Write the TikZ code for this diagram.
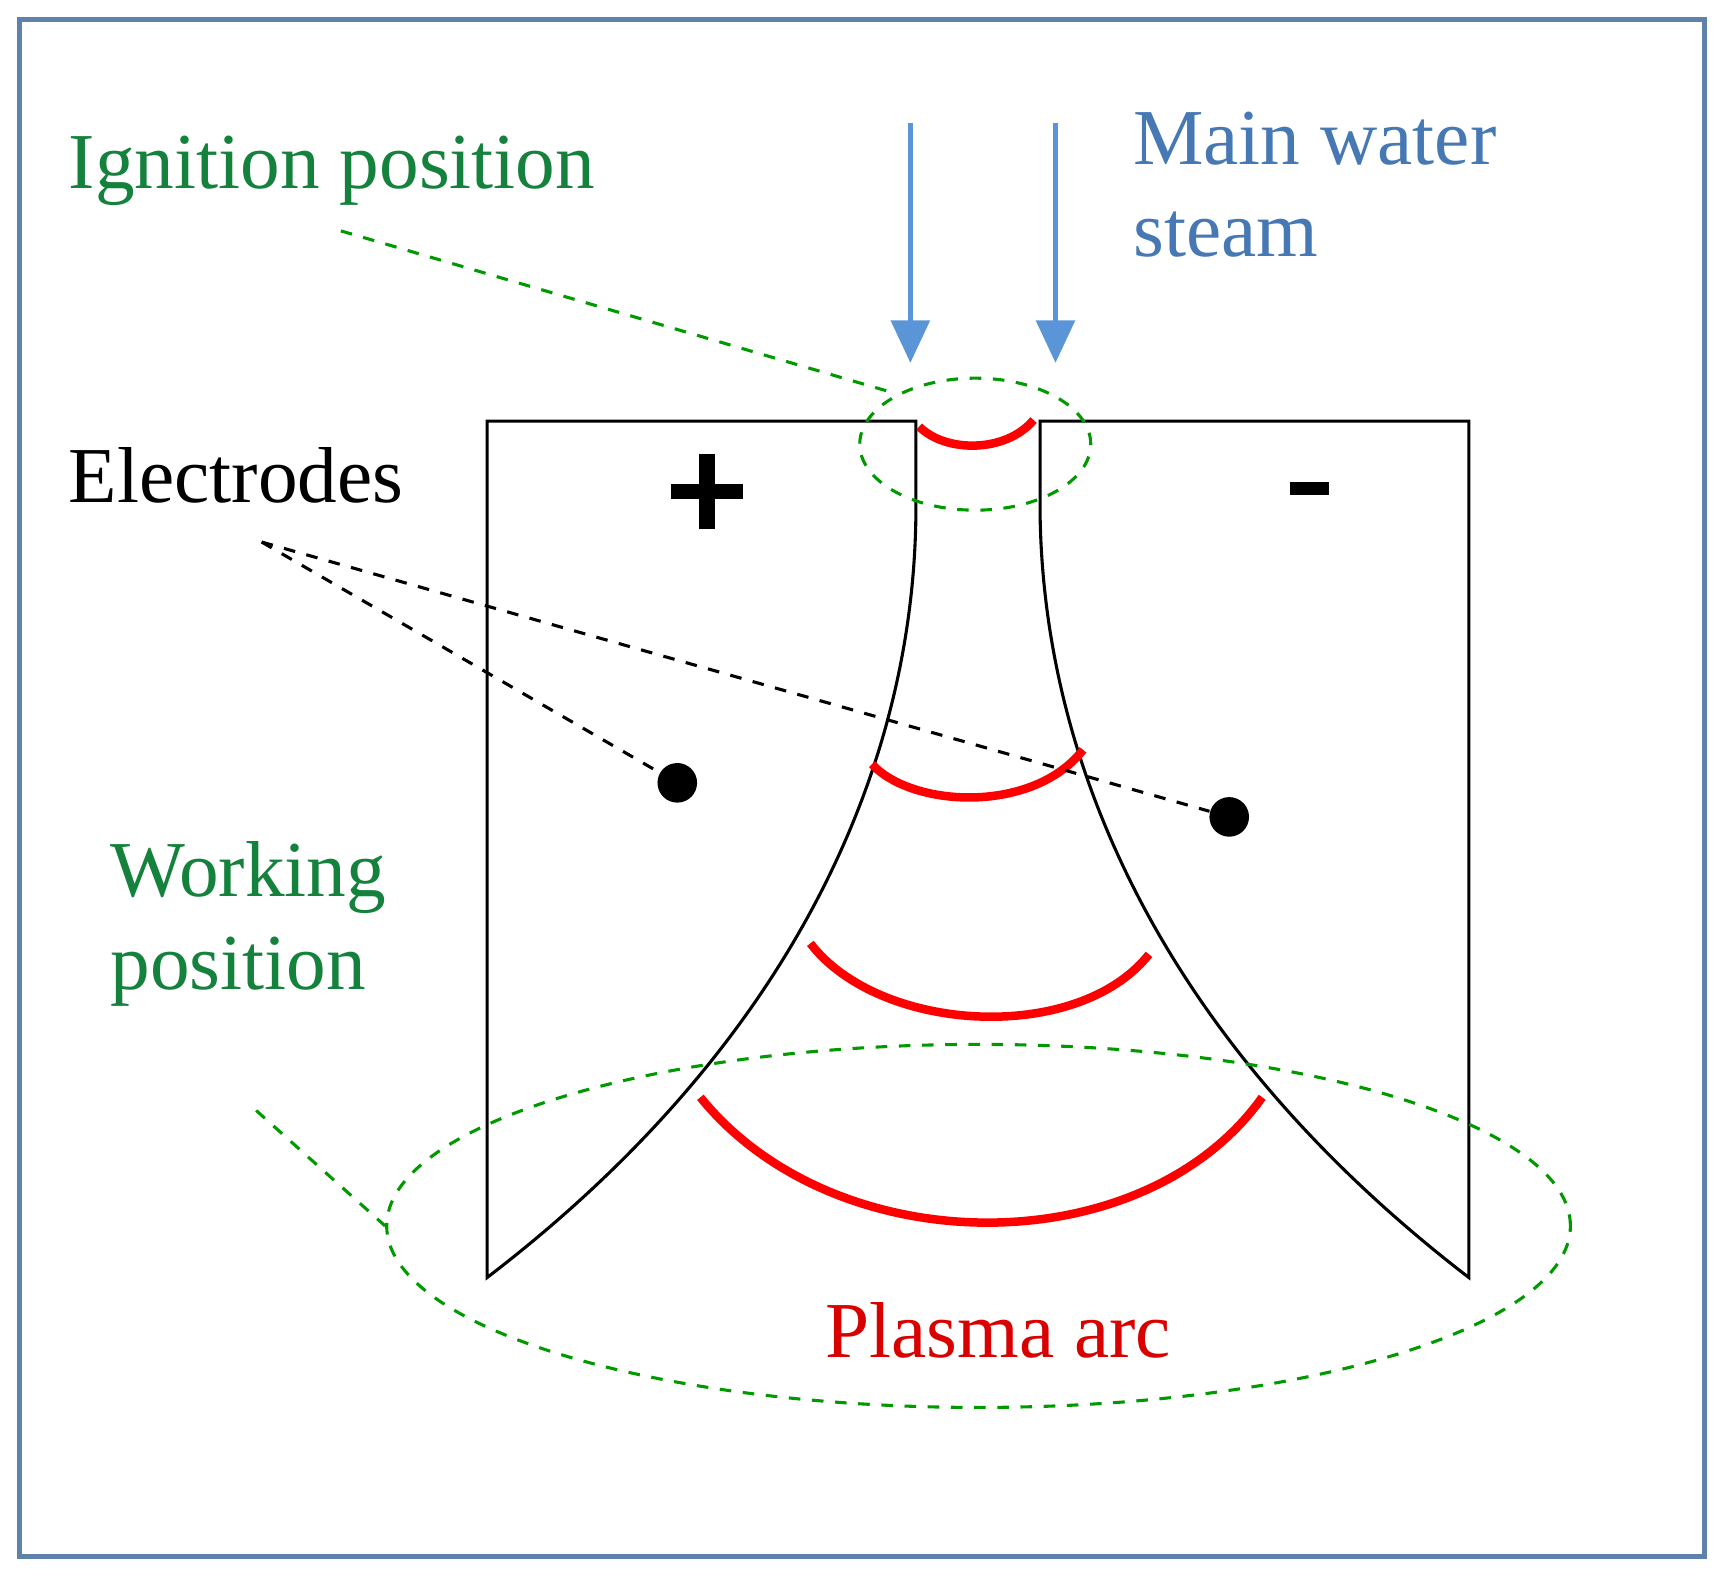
\documentclass[tikz,border=0pt]{standalone}
\usepackage{fontspec}
\setmainfont{Liberation Serif}
\usetikzlibrary{shapes.geometric,arrows.meta}
\definecolor{frame}{RGB}{95,130,170}
\definecolor{arr}{RGB}{90,150,215}
\definecolor{bluetxt}{RGB}{70,120,180}
\definecolor{grtxt}{RGB}{20,130,60}
\begin{document}
\begin{tikzpicture}[x=0.01cm,y=-0.01cm,
  grn/.style={draw=green!60!black,dashed,thick},
  arc/.style={draw=red,line width=2.2pt},
  lbl/.style={font=\fontsize{20.5}{24}\selectfont,anchor=west,align=left,inner sep=0}]
\useasboundingbox (0,0) rectangle (1568,1434);
\draw[draw=frame,line width=1.3pt] (18,18) rectangle (1550,1416);
% electrodes
\draw[thick] (443,383) -- (833,383) -- (833,470) .. controls (830,700) and (720,950) .. (443,1162) -- cycle;
\draw[thick] (1336,383) -- (946,383) -- (946,470) .. controls (950,700) and (1060,950) .. (1336,1162) -- cycle;
% red arcs
\draw[arc] (836,388) .. controls (860,412) and (915,412) .. (940,382);
\draw[arc] (793,695) .. controls (830,735) and (940,740) .. (985,682);
\draw[arc] (737,858) .. controls (800,940) and (980,950) .. (1045,868);
\draw[arc] (637,998) .. controls (760,1150) and (1040,1150) .. (1148,998);
% green
\node[grn,ellipse,minimum width=2.1cm,minimum height=1.2cm,inner sep=0] (ig) at (887,404) {};
\node[grn,ellipse,minimum width=10.76cm,minimum height=3.3cm,inner sep=0] (wk) at (890,1115) {};
\coordinate (igl) at (310,210);
\coordinate (wkl) at (233,1010);
\draw[grn] (igl) -- (815,358);
\draw[grn] (wkl) -- (wk.west);
% electrode dots
\node[circle,fill,inner sep=0,minimum size=0.36cm] (d1) at (616,712) {};
\node[circle,fill,inner sep=0,minimum size=0.36cm] (d2) at (1118,743) {};
\coordinate (el) at (238,493);
\draw[dashed,thick] (el) -- (d1);
\draw[dashed,thick] (el) -- (d2);
% arrows
\coordinate (a1) at (828,112); \coordinate (a1e) at (828,330);
\coordinate (a2) at (960,112); \coordinate (a2e) at (960,330);
\draw[draw=arr,line width=1.1pt,-{Triangle[width=10pt,length=11pt]}] (a1) -- (a1e);
\draw[draw=arr,line width=1.1pt,-{Triangle[width=10pt,length=11pt]}] (a2) -- (a2e);
% texts
\node[lbl,text=grtxt] (t1) at (62,155) {Ignition position};
\node[lbl,text=bluetxt] (t2) at (1030,168) {Main water\\steam};
\node[lbl] (t3) at (62,432) {Electrodes};
\node[lbl,text=grtxt] (t4) at (100,840) {Working\\position};
\node[font=\fontsize{20.5}{24}\selectfont,text=red!85!black] (t5) at (908,1210) {Plasma arc};
\draw[line width=1.4mm] (643,413) -- (643,481);
\draw[line width=1.4mm] (610,447) -- (676,447);
\draw[line width=1.2mm] (1173,444) -- (1209,444);
\end{tikzpicture}
\end{document}
